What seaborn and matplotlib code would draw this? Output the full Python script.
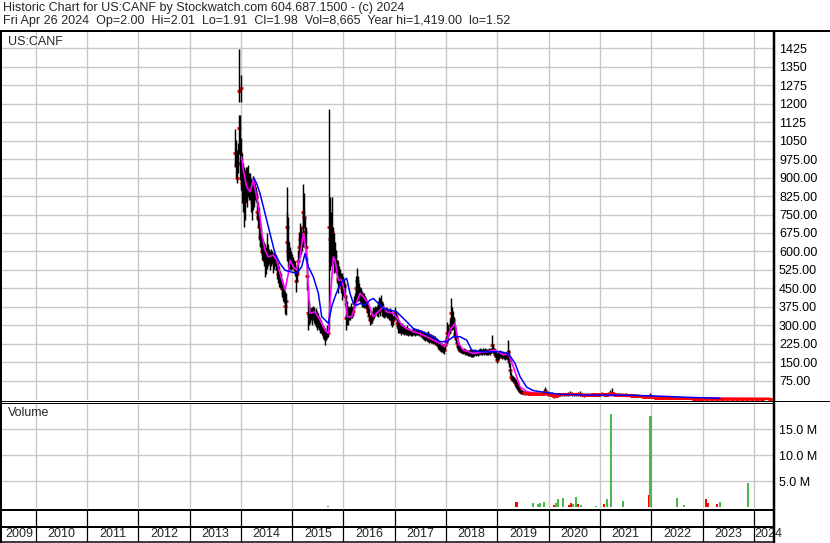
import matplotlib
matplotlib.use("Agg")
import matplotlib.pyplot as plt
import seaborn as sns
from matplotlib.lines import Line2D

sns.set_style("white")
plt.rcParams['font.family'] = ['Liberation Sans', 'DejaVu Sans']

# ---------------- data ----------------
header1 = "Historic Chart for US:CANF by Stockwatch.com 604.687.1500 - (c) 2024"
header2 = "Fri Apr 26 2024  Op=2.00  Hi=2.01  Lo=1.91  Cl=1.98  Vol=8,665  Year hi=1,419.00  lo=1.52"
symbol = "US:CANF"
year_boundaries = list(range(2010, 2025))
year_labels = [str(y) for y in range(2009, 2025)]
price_ticks = [75, 150, 225, 300, 375, 450, 525, 600, 675, 750, 825, 900, 975,
               1050, 1125, 1200, 1275, 1350, 1425]
vol_ticks = [5, 10, 15]
vol_tick_labels = ["5.0 M", "10.0 M", "15.0 M"]

dates_a = [
    2013.885, 2013.898, 2013.917, 2013.937, 2013.957, 2013.963, 2013.976, 2013.995, 2014.008, 2014.028,
    2014.047, 2014.067, 2014.086, 2014.106, 2014.125, 2014.145, 2014.164, 2014.184, 2014.203, 2014.223,
    2014.242, 2014.262, 2014.281, 2014.301, 2014.320, 2014.340, 2014.359, 2014.379, 2014.398, 2014.418,
    2014.437, 2014.457, 2014.476, 2014.496, 2014.515, 2014.535, 2014.554, 2014.574, 2014.593, 2014.613,
    2014.632, 2014.652, 2014.671, 2014.691, 2014.710, 2014.730, 2014.749, 2014.769, 2014.788, 2014.808,
    2014.827, 2014.847, 2014.866, 2014.879, 2014.892, 2014.905, 2014.925, 2014.944, 2014.964, 2014.983,
    2015.003, 2015.022, 2015.042, 2015.061, 2015.074, 2015.094, 2015.113, 2015.133, 2015.152, 2015.172,
    2015.191, 2015.204, 2015.217, 2015.237, 2015.256, 2015.276, 2015.295, 2015.315, 2015.334, 2015.354,
    2015.373, 2015.393, 2015.412, 2015.432, 2015.451, 2015.471, 2015.490, 2015.510, 2015.529, 2015.549,
    2015.568, 2015.588, 2015.607, 2015.627, 2015.646, 2015.666, 2015.685, 2015.705, 2015.724, 2015.737,
    2015.750, 2015.769, 2015.789, 2015.808, 2015.828, 2015.847, 2015.867, 2015.886, 2015.906, 2015.925,
    2015.945, 2015.964, 2015.984, 2016.003, 2016.023, 2016.042, 2016.062, 2016.081, 2016.101, 2016.120,
    2016.140, 2016.159, 2016.179, 2016.198, 2016.218, 2016.237, 2016.257, 2016.270, 2016.289, 2016.309,
    2016.328, 2016.348, 2016.367, 2016.387, 2016.406, 2016.426, 2016.445, 2016.465, 2016.484, 2016.504,
    2016.523, 2016.543, 2016.562, 2016.582, 2016.601, 2016.621, 2016.640, 2016.660, 2016.679, 2016.699,
    2016.718, 2016.731, 2016.751, 2016.770, 2016.790, 2016.809, 2016.829, 2016.848, 2016.868, 2016.887,
    2016.907, 2016.926, 2016.946, 2016.965, 2016.985, 2017.004, 2017.024, 2017.043, 2017.063, 2017.082,
    2017.102, 2017.121, 2017.141, 2017.160, 2017.180, 2017.199, 2017.219, 2017.238, 2017.258, 2017.277,
    2017.297, 2017.316, 2017.335, 2017.355, 2017.374, 2017.394, 2017.413, 2017.433, 2017.452, 2017.472,
]
highs_a = [
    1099, 1052, 1011, 1039, 1154, 1421, 1154, 1316, 1060, 998,
    960, 944, 930, 944, 944, 950, 920, 917, 900, 890,
    903, 890, 876, 860, 836, 800, 782, 720, 700, 660,
    650, 640, 630, 620, 673, 630, 610, 600, 610, 600,
    592, 600, 590, 585, 565, 552, 540, 520, 511, 490,
    470, 457, 440, 430, 863, 760, 741, 640, 620, 600,
    590, 578, 565, 560, 538, 540, 606, 680, 714, 700,
    680, 760, 873, 836, 740, 700, 578, 460, 400, 376,
    370, 376, 380, 376, 360, 370, 360, 350, 340, 330,
    320, 310, 300, 294, 290, 280, 300, 294, 1178, 822,
    760, 822, 700, 673, 640, 605, 565, 560, 540, 530,
    511, 511, 500, 490, 470, 420, 400, 380, 376, 380,
    389, 376, 380, 420, 430, 500, 480, 534, 500, 470,
    457, 450, 440, 430, 430, 420, 410, 400, 390, 370,
    340, 345, 360, 376, 370, 380, 376, 380, 400, 416,
    410, 423, 400, 390, 376, 370, 376, 370, 365, 362,
    370, 362, 345, 340, 349, 376, 360, 335, 330, 320,
    310, 300, 310, 300, 300, 290, 294, 300, 290, 290,
    280, 285, 280, 290, 285, 280, 285, 280, 285, 282,
]
lows_a = [
    944, 903, 876, 917, 1000, 1208, 890, 1208, 850, 795,
    760, 700, 727, 800, 782, 820, 809, 809, 760, 727,
    768, 780, 809, 800, 727, 700, 646, 620, 592, 565,
    560, 540, 497, 510, 530, 540, 550, 524, 540, 550,
    511, 530, 540, 524, 490, 470, 457, 450, 443, 416,
    400, 389, 345, 342, 578, 560, 538, 520, 530, 524,
    530, 538, 520, 500, 437, 480, 511, 560, 578, 590,
    600, 619, 650, 700, 620, 560, 443, 281, 300, 308,
    320, 300, 320, 310, 300, 294, 281, 290, 280, 270,
    267, 260, 250, 240, 220, 240, 250, 254, 281, 524,
    540, 560, 550, 511, 520, 511, 470, 430, 450, 460,
    430, 403, 420, 430, 380, 281, 300, 300, 320, 320,
    330, 330, 340, 370, 376, 403, 400, 420, 400, 403,
    395, 389, 376, 376, 370, 376, 370, 350, 340, 320,
    300, 305, 310, 320, 330, 340, 349, 340, 335, 350,
    340, 360, 340, 335, 330, 335, 340, 330, 330, 320,
    320, 300, 294, 300, 320, 330, 320, 290, 270, 267,
    270, 260, 267, 265, 261, 265, 261, 261, 255, 261,
    261, 258, 258, 260, 260, 258, 260, 261, 262, 258,
]
closes_a = [
    1000, 950, 900, 960, 1100, 1250, 1000, 1265, 950, 880,
    850, 800, 850, 880, 860, 900, 850, 860, 820, 800,
    850, 830, 840, 820, 760, 740, 700, 660, 630, 600,
    590, 580, 560, 570, 600, 580, 580, 560, 580, 570,
    560, 570, 560, 550, 530, 510, 500, 480, 470, 450,
    430, 420, 380, 400, 700, 640, 600, 580, 570, 560,
    560, 550, 540, 530, 480, 510, 560, 620, 650, 640,
    640, 700, 760, 740, 680, 620, 500, 350, 340, 340,
    345, 340, 350, 340, 330, 330, 320, 320, 310, 300,
    290, 285, 275, 265, 250, 260, 275, 270, 700, 650,
    640, 680, 620, 590, 580, 560, 520, 490, 500, 490,
    470, 450, 460, 460, 420, 330, 340, 340, 345, 350,
    360, 350, 360, 390, 400, 450, 440, 480, 450, 430,
    420, 420, 410, 400, 400, 400, 390, 370, 360, 340,
    320, 325, 335, 350, 350, 360, 360, 360, 370, 380,
    375, 390, 370, 360, 350, 350, 355, 350, 345, 340,
    345, 330, 320, 320, 335, 350, 340, 310, 300, 290,
    290, 280, 285, 280, 280, 278, 277, 280, 272, 275,
    270, 270, 268, 275, 272, 268, 272, 270, 273, 270,
]

dates_b = [
    2017.511, 2017.530, 2017.550, 2017.569, 2017.589, 2017.608, 2017.628, 2017.647, 2017.667, 2017.686,
    2017.706, 2017.725, 2017.745, 2017.764, 2017.784, 2017.803, 2017.823, 2017.842, 2017.862, 2017.881,
    2017.901, 2017.920, 2017.940, 2017.959, 2017.979, 2017.998, 2018.018, 2018.024, 2018.044, 2018.063,
    2018.083, 2018.089, 2018.109, 2018.128, 2018.148, 2018.167, 2018.187, 2018.206, 2018.226, 2018.245,
    2018.265, 2018.284, 2018.304, 2018.323, 2018.343, 2018.362, 2018.382, 2018.401, 2018.421, 2018.440,
    2018.460, 2018.479, 2018.499, 2018.518, 2018.538, 2018.557, 2018.577, 2018.596, 2018.616, 2018.635,
    2018.655, 2018.674, 2018.694, 2018.713, 2018.733, 2018.752, 2018.771, 2018.791, 2018.810, 2018.830,
    2018.850, 2018.869, 2018.889, 2018.908, 2018.927, 2018.947, 2018.966, 2018.986, 2019.006, 2019.025,
    2019.045, 2019.064, 2019.083, 2019.103, 2019.122, 2019.142, 2019.161, 2019.181, 2019.200, 2019.213,
    2019.233, 2019.252, 2019.272, 2019.291, 2019.311, 2019.330, 2019.350, 2019.369, 2019.389, 2019.408,
    2019.428, 2019.447, 2019.467, 2019.486, 2019.525, 2019.564, 2019.603, 2019.642, 2019.681, 2019.720,
    2019.759, 2019.798, 2019.837, 2019.876, 2019.915, 2019.928, 2019.954, 2019.993, 2020.032, 2020.071,
    2020.110, 2020.149, 2020.188, 2020.227, 2020.266, 2020.305, 2020.344, 2020.383, 2020.422, 2020.461,
    2020.500, 2020.539, 2020.578, 2020.617, 2020.656, 2020.695, 2020.734, 2020.773, 2020.812, 2020.851,
    2020.890, 2020.929, 2020.968, 2021.007, 2021.046, 2021.085, 2021.124, 2021.163, 2021.202, 2021.228,
    2021.267, 2021.306, 2021.345, 2021.384, 2021.423, 2021.462, 2021.501, 2021.540, 2021.579, 2021.618,
    2021.657, 2021.696, 2021.735, 2021.774, 2021.813, 2021.852, 2021.891, 2021.930, 2021.975, 2022.008,
    2022.047, 2022.086, 2022.125, 2022.164, 2022.203, 2022.242, 2022.281, 2022.320, 2022.358, 2022.436,
    2022.514, 2022.592, 2022.670, 2022.748, 2022.826, 2022.904, 2022.982, 2023.080, 2023.177, 2023.275,
    2023.372, 2023.470, 2023.567, 2023.664, 2023.762, 2023.859, 2023.957, 2024.054, 2024.152, 2024.314,
]
highs_b = [
    281, 276, 274, 278, 270, 268, 272, 276, 270, 266,
    264, 260, 262, 258, 255, 250, 248, 240, 236, 234,
    230, 228, 225, 220, 241, 255, 260, 312, 300, 290,
    330, 412, 376, 360, 335, 300, 274, 254, 240, 220,
    215, 210, 207, 205, 210, 205, 200, 200, 198, 200,
    205, 200, 198, 196, 200, 205, 200, 202, 198, 205,
    207, 205, 203, 207, 205, 207, 205, 203, 206, 208,
    205, 210, 261, 225, 210, 205, 196, 186, 190, 195,
    200, 196, 190, 193, 190, 188, 186, 190, 200, 241,
    200, 146, 110, 100, 95, 92, 85, 78, 70, 60,
    50, 40, 36, 38, 35, 33, 31, 30, 31, 30,
    29, 30, 28, 30, 40, 49, 42, 35, 30, 28,
    25, 22, 24, 26, 25, 27, 26, 28, 33, 28,
    26, 27, 28, 32, 27, 25, 24, 25, 24, 25,
    26, 25, 26, 27, 28, 27, 26, 30, 36, 44,
    30, 26, 25, 24, 24, 23, 24, 22, 23, 22,
    21, 20, 20, 18, 17, 18, 16, 17, 27, 14,
    12, 11, 10, 11, 10, 9, 9, 8, 8, 8,
    7, 7, 6, 6, 5, 6, 5, 4, 4, 3.5,
    3.5, 3, 3, 3, 3, 2.8, 2.6, 2.5, 2.3, 2.2,
]
lows_b = [
    254, 250, 245, 240, 236, 240, 236, 232, 230, 234,
    230, 227, 225, 228, 222, 220, 215, 205, 200, 195,
    192, 190, 186, 182, 200, 220, 230, 227, 254, 260,
    270, 281, 281, 290, 254, 240, 227, 210, 200, 193,
    190, 186, 186, 182, 186, 180, 180, 178, 176, 175,
    176, 173, 170, 173, 176, 178, 176, 180, 176, 180,
    182, 180, 178, 182, 180, 182, 180, 178, 180, 182,
    180, 186, 200, 186, 180, 170, 160, 146, 159, 165,
    170, 166, 165, 166, 165, 160, 162, 165, 160, 146,
    130, 100, 78, 75, 70, 65, 55, 45, 40, 35,
    30, 25, 22, 20, 18, 18, 17, 17, 16, 18,
    17, 18, 17, 16, 18, 20, 18, 15, 14, 12,
    6, 8, 12, 15, 14, 15, 14, 15, 16, 15,
    14, 15, 14, 15, 12, 10, 12, 13, 12, 14,
    15, 13, 14, 15, 16, 15, 14, 15, 16, 17,
    15, 14, 14, 13, 12, 13, 13, 12, 12, 11,
    11, 10, 9, 8, 8, 7, 7, 7, 8, 6,
    5, 5, 4, 4, 4, 3, 3, 3, 2.5, 3,
    2.5, 2, 2, 2, 2, 1.5, 1.5, 1.5, 1.5, 1.2,
    1.5, 1.5, 1.5, 1.5, 1.5, 1.6, 1.6, 1.5, 1.6, 1.8,
]
closes_b = [
    268, 262, 260, 258, 252, 255, 254, 250, 248, 250,
    245, 242, 240, 242, 236, 233, 230, 222, 218, 212,
    210, 208, 205, 200, 220, 238, 245, 270, 275, 275,
    300, 350, 330, 320, 290, 265, 250, 230, 218, 205,
    200, 198, 196, 193, 198, 192, 190, 188, 186, 186,
    190, 186, 183, 185, 188, 190, 188, 190, 186, 192,
    194, 192, 190, 194, 192, 194, 192, 190, 193, 195,
    192, 198, 220, 205, 195, 185, 175, 160, 172, 180,
    185, 180, 178, 180, 176, 172, 175, 178, 175, 190,
    160, 120, 92, 85, 80, 78, 70, 60, 52, 45,
    40, 32, 28, 28, 26, 25, 24, 23, 22, 23,
    22, 23, 22, 22, 26, 30, 26, 22, 20, 18,
    12, 14, 18, 20, 20, 21, 20, 21, 22, 21,
    20, 21, 20, 21, 18, 16, 17, 18, 17, 19,
    20, 18, 19, 20, 21, 20, 19, 20, 22, 24,
    20, 19, 19, 18, 17, 17, 18, 16, 16, 15,
    15, 14, 13, 12, 12, 11, 10, 10, 12, 9,
    8, 7, 6, 7, 6, 5, 5, 5, 4, 4.5,
    4, 3.5, 3.5, 3.5, 3, 3, 2.8, 2.5, 2.5, 2.2,
    2.2, 2.2, 2.1, 2.1, 2.1, 2.1, 2.0, 2.0, 1.9, 1.98,
]

ma_short_dates = [
    2014.015, 2014.047, 2014.112, 2014.177, 2014.242, 2014.307, 2014.372, 2014.405, 2014.470, 2014.535,
    2014.632, 2014.697, 2014.762, 2014.860, 2014.925, 2014.957, 2015.022, 2015.087, 2015.152, 2015.217,
    2015.282, 2015.315, 2015.347, 2015.445, 2015.542, 2015.640, 2015.705, 2015.750, 2015.802, 2015.834,
    2015.899, 2015.964, 2016.029, 2016.075, 2016.159, 2016.224, 2016.322, 2016.387, 2016.484, 2016.582,
    2016.647, 2016.712, 2016.777, 2016.842, 2016.972, 2017.069, 2017.134, 2017.231, 2017.361, 2017.491,
    2017.686, 2017.881, 2017.979, 2018.076, 2018.174, 2018.239, 2018.336, 2018.531, 2018.791, 2018.953,
    2019.116, 2019.213, 2019.311, 2019.441, 2019.571, 2019.831, 2020.091, 2020.416, 2021.065, 2021.390,
    2022.040, 2023.015, 2024.314,
]
ma_short = [
    984, 930, 863, 842, 890, 822, 741, 673, 605, 578,
    585, 565, 511, 443, 511, 565, 538, 524, 578, 673,
    592, 443, 349, 355, 322, 281, 267, 430, 578, 565,
    484, 484, 430, 335, 335, 376, 430, 416, 389, 335,
    349, 362, 376, 355, 349, 322, 301, 287, 274, 267,
    247, 227, 213, 281, 308, 227, 200, 186, 193, 200,
    180, 186, 132, 51, 31, 21, 17, 17, 17, 13,
    8, 4, 1.8,
]
ma_long_dates = [
    2014.242, 2014.307, 2014.372, 2014.437, 2014.535, 2014.600, 2014.665, 2014.762, 2014.860, 2014.957,
    2015.087, 2015.185, 2015.250, 2015.315, 2015.412, 2015.510, 2015.575, 2015.640, 2015.705, 2015.769,
    2015.834, 2015.899, 2015.964, 2016.062, 2016.127, 2016.192, 2016.257, 2016.322, 2016.419, 2016.517,
    2016.582, 2016.679, 2016.777, 2016.907, 2017.037, 2017.134, 2017.231, 2017.361, 2017.491, 2017.686,
    2017.881, 2018.011, 2018.141, 2018.271, 2018.401, 2018.499, 2018.661, 2018.856, 2019.051, 2019.213,
    2019.343, 2019.441, 2019.571, 2019.701, 2019.961, 2020.221, 2020.740, 2021.390, 2021.975, 2022.690,
    2023.339,
]
ma_long = [
    903, 876, 836, 782, 700, 646, 592, 551, 524, 518,
    511, 538, 592, 538, 497, 430, 335, 322, 308, 376,
    416, 450, 477, 491, 430, 389, 382, 389, 382, 403,
    409, 389, 369, 362, 355, 335, 315, 287, 278, 261,
    234, 234, 254, 254, 240, 200, 193, 193, 193, 186,
    146, 92, 49, 35, 27, 20, 17, 17, 14, 8,
    4,
]

vol_dates = [2015.698, 2019.371, 2019.688, 2019.797, 2019.830, 2019.908, 2020.105, 2020.144, 2020.183, 2020.273,
             2020.397, 2020.429, 2020.480, 2020.532, 2020.565, 2020.630, 2020.922, 2021.084, 2021.131, 2021.209,
             2021.443, 2021.955, 2021.985, 2022.495, 2022.637, 2023.060, 2023.111, 2023.275, 2023.340, 2023.879]
vol_millions = [0.2, 1.0, 0.75, 0.6, 0.8, 1.0, 0.4, 0.8, 1.5, 1.7,
                0.5, 0.8, 0.7, 1.9, 0.6, 0.4, 0.3, 0.6, 1.5, 17.9,
                1.1, 2.3, 17.5, 1.7, 0.4, 1.5, 0.9, 0.6, 1.0, 4.6]
vol_dir = ['up', 'down', 'up', 'up', 'up', 'up', 'down', 'up', 'up', 'up',
           'down', 'down', 'up', 'up', 'down', 'up', 'up', 'down', 'up', 'up',
           'up', 'down', 'up', 'up', 'up', 'down', 'down', 'down', 'up', 'up']

# ---------------- layout helpers ----------------
W, H = 830, 543
fig = plt.figure(figsize=(W / 100, H / 100), dpi=100)
fig.patch.set_facecolor('white')


def rect(x0, y0, x1, y1):
    return [x0 / W, 1 - y1 / H, (x1 - x0) / W, (y1 - y0) / H]


def fline(x0, y0, x1, y1, px=1.0, color='black'):
    fig.add_artist(Line2D([x0 / W, x1 / W], [1 - y0 / H, 1 - y1 / H],
                          transform=fig.transFigure, color=color,
                          lw=px * 0.72, solid_capstyle='butt', zorder=20))


X_LEFT, X_RIGHT = 2009.343, 2024.392
GRID = '#c8c8c8'
FS = 9

# ---------------- price panel ----------------
ax = fig.add_axes(rect(2, 32, 774, 400))
ax.set_xlim(X_LEFT, X_RIGHT)
ax.set_ylim(-3, 1491)
ax.set_xticks(year_boundaries)
ax.set_yticks(price_ticks)
ax.set_yticklabels([f"{v:.0f}" if v >= 1000 else f"{v:.2f}" for v in price_ticks])
ax.yaxis.tick_right()
ax.tick_params(axis='y', length=0, pad=3.6, labelsize=FS, colors='black')
ax.tick_params(axis='x', length=0, labelbottom=False)
ax.grid(True, color=GRID, lw=1.0)
ax.set_axisbelow(True)
for s in ax.spines.values():
    s.set_visible(False)

dates_all = dates_a + dates_b
highs_all = highs_a + highs_b
lows_all = lows_a + lows_b
closes_all = closes_a + closes_b

# close ticks: hidden under the bars where the range is wide, dominant on the flat tail
tail = [i for i, d in enumerate(dates_all) if d >= 2019.5]
ax.plot(dates_all, closes_all, ls='none', marker='_', ms=3, mew=2.0, color='#ff0000', zorder=2)
ax.vlines(dates_all, lows_all, highs_all, color='black', lw=1.05, zorder=3)
sns.lineplot(x=ma_short_dates, y=ma_short, ax=ax, color='#ff00ff', lw=1.2,
             estimator=None, sort=False, zorder=4)
ax.plot([dates_all[i] for i in tail], [closes_all[i] for i in tail], ls='-', lw=1.8,
        marker='_', ms=3, mew=2.0, color='#ff0000', zorder=4.5)
sns.lineplot(x=ma_long_dates, y=ma_long, ax=ax, color='#0000ff', lw=1.1,
             estimator=None, sort=False, zorder=5)
ax.set_xlabel('')
ax.set_ylabel('')
ax.text(6 / 772, 1 - 10 / 368, symbol, transform=ax.transAxes, fontsize=FS,
        va='center', ha='left', zorder=10)

# ---------------- volume panel ----------------
axv = fig.add_axes(rect(2, 403, 774, 508))
axv.set_xlim(X_LEFT, X_RIGHT)
axv.set_ylim(-0.15, 20.0)
axv.set_xticks(year_boundaries)
axv.set_yticks(vol_ticks)
axv.set_yticklabels(vol_tick_labels)
axv.yaxis.tick_right()
axv.tick_params(axis='y', length=0, pad=3.6, labelsize=FS, colors='black')
axv.tick_params(axis='x', length=0, labelbottom=False)
axv.grid(True, color=GRID, lw=1.0)
axv.set_axisbelow(True)
for s in axv.spines.values():
    s.set_visible(False)
bar_colors = ['#4db84d' if d == 'up' else '#ff0000' for d in vol_dir]
axv.bar(vol_dates, vol_millions, width=0.045, color=bar_colors, linewidth=0, zorder=3)
axv.text(6 / 772, 1 - 10 / 105, "Volume", transform=axv.transAxes, fontsize=FS,
         va='center', ha='left', zorder=10)

# ---------------- date panel ----------------
axd = fig.add_axes(rect(2, 509, 774, 542))
axd.set_xlim(X_LEFT, X_RIGHT)
axd.set_ylim(0, 1)
axd.axis('off')
label_pos = [(X_LEFT + 2010) / 2] + [y + 0.5 for y in range(2010, 2024)]
for lbl, xp in zip(year_labels[:-1], label_pos):
    axd.text(xp, 0.24, lbl, ha='center', va='center', fontsize=FS)
axd.text(2024.01, 0.24, year_labels[-1], ha='left', va='center', fontsize=FS)
for yb in year_boundaries:
    axd.axvline(yb, color='black', lw=0.9)

# ---------------- frame lines ----------------
fline(0, 31, 830, 31, 2)
fline(1, 30, 1, 543, 2)
fline(774, 30, 774, 543, 2.5)
fline(0, 400.5, 830, 400.5, 1)
fline(0, 403, 774, 403, 1)
fline(0, 509.5, 774, 509.5, 2)
fline(0, 526.5, 774, 526.5, 2)
fline(0, 542, 774, 542, 1.5)

# ---------------- header ----------------
fig.text(3 / W, 1 - 8 / H, header1, fontsize=FS, va='center', ha='left')
fig.text(3 / W, 1 - 21 / H, header2, fontsize=FS, va='center', ha='left')

fig.savefig("out.png", dpi=100, facecolor='white')
